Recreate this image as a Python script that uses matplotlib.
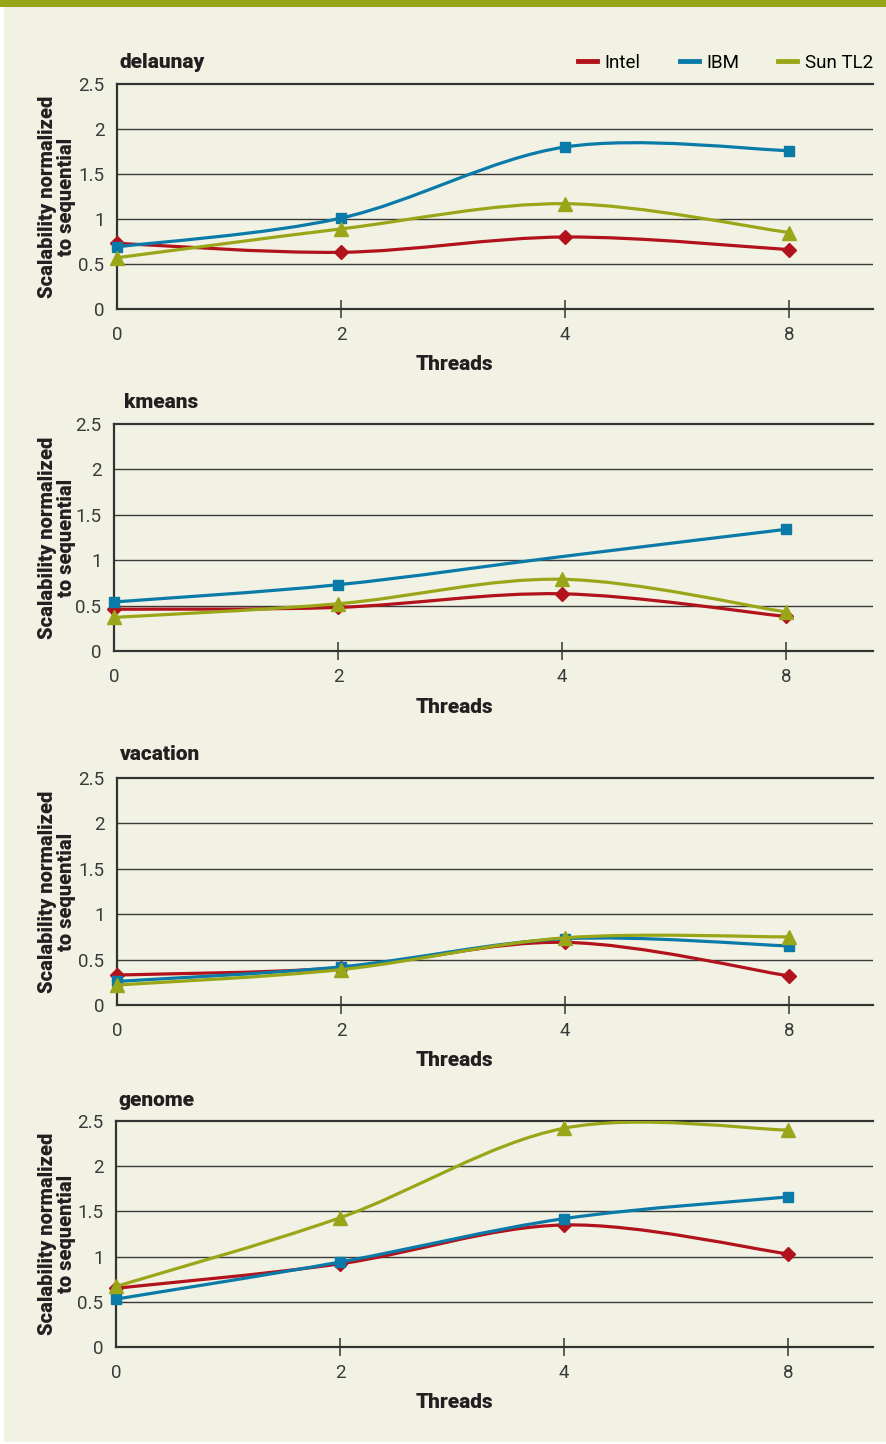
import matplotlib
matplotlib.use("Agg")
import matplotlib.pyplot as plt
from matplotlib.path import Path
from matplotlib.patches import PathPatch, Rectangle
from matplotlib.lines import Line2D

# ---------------- data ----------------
threads = ["0", "2", "4", "8"]
series_names = ["Intel", "IBM", "Sun TL2"]

delaunay_intel = [0.73, 0.63, 0.80, 0.66]
delaunay_ibm = [0.69, 1.01, 1.80, 1.76]
delaunay_sun = [0.57, 0.89, 1.17, 0.85]

kmeans_intel = [0.46, 0.48, 0.63, 0.38]
kmeans_ibm = [0.54, 0.73, 1.04, 1.34]
kmeans_sun = [0.37, 0.52, 0.79, 0.43]

vacation_intel = [0.33, 0.41, 0.69, 0.32]
vacation_ibm = [0.26, 0.42, 0.73, 0.65]
vacation_sun = [0.22, 0.39, 0.74, 0.75]

genome_intel = [0.65, 0.92, 1.35, 1.03]
genome_ibm = [0.53, 0.94, 1.42, 1.66]
genome_sun = [0.67, 1.43, 2.42, 2.40]

panel_titles = ["delaunay", "kmeans", "vacation", "genome"]
y_ticks = [0, 0.5, 1, 1.5, 2, 2.5]
y_tick_labels = ["0", "0.5", "1", "1.5", "2", "2.5"]

panels = [
    (delaunay_intel, delaunay_ibm, delaunay_sun),
    (kmeans_intel, kmeans_ibm, kmeans_sun),
    (vacation_intel, vacation_ibm, vacation_sun),
    (genome_intel, genome_ibm, genome_sun),
]

# ---------------- style ----------------
W, H = 887, 1444
BG = "#f2f2e4"
BAR = "#97a318"
INK = "#231f20"
colors = ["#b2121c", "#0a7ba8", "#9aa617"]
markers = ["D", "s", "^"]
msizes = [7, 7.5, 9.5]
# which points carry markers (kmeans IBM lacks a marker at 4 threads)
mark_idx = [
    [[0, 1, 2, 3], [0, 1, 2, 3], [0, 1, 2, 3]],
    [[0, 1, 2, 3], [0, 1, 3], [0, 1, 2, 3]],
    [[0, 1, 2, 3], [0, 1, 2, 3], [0, 1, 2, 3]],
    [[0, 1, 2, 3], [0, 1, 2, 3], [0, 1, 2, 3]],
]

# axes boxes in pixels: left, right, top, bottom
boxes = [
    (117, 873, 84, 309),
    (114, 873, 424, 651),
    (117, 873, 778, 1005),
    (116, 873, 1121, 1347),
]
title_pos = [(120, 63), (124, 403), (120, 755), (118, 1101)]

TICK_FONT = dict(family="Roboto", weight="normal", size=13.5, color="#3a3a3a")
BOLD_FONT = dict(family="Roboto", weight="black", color=INK)


def fx(x):
    return x / W


def fy(y):
    return 1 - y / H


def smooth_path(xs, ys):
    """Excel-style smoothed line as cubic Bezier segments."""
    n = len(xs)
    P = list(zip(xs, ys))
    verts = [P[0]]
    codes = [Path.MOVETO]
    for i in range(n - 1):
        p0 = P[i - 1] if i > 0 else P[i]
        p1 = P[i]
        p2 = P[i + 1]
        p3 = P[i + 2] if i + 2 < n else P[i + 1]
        c1 = (p1[0] + (p2[0] - p0[0]) / 6, p1[1] + (p2[1] - p0[1]) / 6)
        c2 = (p2[0] - (p3[0] - p1[0]) / 6, p2[1] - (p3[1] - p1[1]) / 6)
        verts += [c1, c2, p2]
        codes += [Path.CURVE4] * 3
    return Path(verts, codes)


fig = plt.figure(figsize=(W / 100, H / 100), dpi=100)
fig.patch.set_facecolor("white")
fig.patches.append(Rectangle((fx(4), 0.0015), 1 - fx(4), 1, transform=fig.transFigure,
                             facecolor=BG, edgecolor="none", zorder=-10))
fig.patches.append(Rectangle((0, fy(7)), 1, 7 / H, transform=fig.transFigure,
                             facecolor=BAR, edgecolor="none", zorder=-5))

xpos = list(range(len(threads)))

for p, (data, box, title, tpos) in enumerate(zip(panels, boxes, panel_titles, title_pos)):
    l, r, t, b = box
    ax = fig.add_axes([fx(l), fy(b), fx(r) - fx(l), (b - t) / H])
    ax.set_facecolor("none")
    ax.set_xlim(0, (r - l) / 224.0)
    ax.set_ylim(0, 2.5)

    for s in ["left", "bottom", "top"]:
        ax.spines[s].set_color("#333333")
        ax.spines[s].set_linewidth(1.6)
    ax.spines["right"].set_visible(False)

    ax.set_yticks(y_ticks)
    ax.set_yticklabels(y_tick_labels, fontdict=TICK_FONT)
    ax.tick_params(axis="y", length=0, pad=9)
    ax.set_xticks(xpos)
    ax.set_xticklabels(threads, fontdict=TICK_FONT)
    ax.tick_params(axis="x", direction="inout", length=13, width=1.1, color="#333333", pad=6)
    ax.xaxis.get_major_ticks()[0].tick1line.set_visible(False)

    for gy in y_ticks[1:-1]:
        ax.axhline(gy, color="#3a3a3a", linewidth=1.0, zorder=1)

    for k in range(3):
        ys = data[k]
        patch = PathPatch(smooth_path(xpos, ys), facecolor="none", edgecolor=colors[k],
                          linewidth=2.3, zorder=3 + k, capstyle="round", joinstyle="round")
        ax.add_patch(patch)
        mi = mark_idx[p][k]
        ax.plot([xpos[i] for i in mi], [ys[i] for i in mi], linestyle="none",
                marker=markers[k], markersize=msizes[k], color=colors[k], zorder=3 + k,
                clip_on=False)

    fig.text(fx(tpos[0]), fy(tpos[1]), title, ha="left", va="center", fontsize=15, **BOLD_FONT)
    ymid = (t + b) / 2
    fig.text(fx(57), fy(ymid), "Scalability normalized\nto sequential", rotation=90,
             ha="center", va="center", fontsize=14.5, linespacing=0.95, multialignment="center",
             **BOLD_FONT)
    fig.text(fx(454), fy(b + 56), "Threads", ha="center", va="center", fontsize=15, **BOLD_FONT)

    if p == 0:
        handles = [Line2D([0], [0], color=c, linewidth=3.5) for c in colors]
        ax.legend(handles, series_names, ncol=3, loc="lower right", bbox_to_anchor=(1.0, 1.055),
                  frameon=False, handlelength=1.0, handletextpad=0.4, columnspacing=2.1,
                  borderaxespad=0.0, borderpad=0.0,
                  prop=dict(family="Roboto", weight="normal", size=13.5))

fig.savefig("out.png", dpi=100, facecolor=fig.get_facecolor())
